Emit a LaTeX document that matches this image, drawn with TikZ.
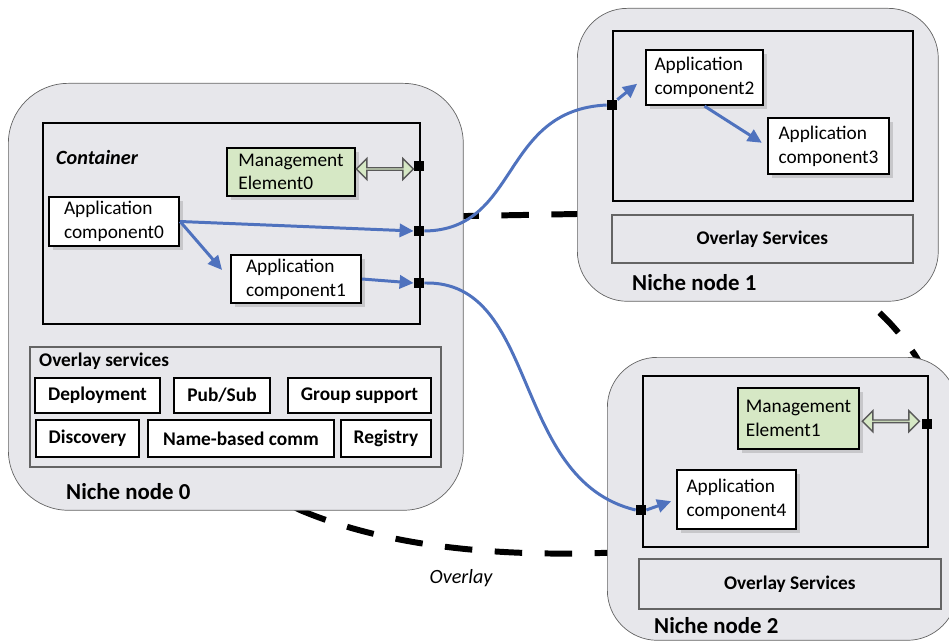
\documentclass[tikz,border=0pt]{standalone}
\usepackage{fontspec}
\setmainfont{Carlito}
\usetikzlibrary{shapes,arrows.meta,positioning,calc,shadows}

\definecolor{nichegray}{RGB}{231,231,235}
\definecolor{framegray}{RGB}{100,100,100}
\definecolor{mgmtgreen}{RGB}{214,232,197}
\definecolor{linkblue}{RGB}{79,114,190}

\begin{document}
\begin{tikzpicture}[
  x=0.02cm, y=-0.02cm,
  font=\fontsize{11}{13.5}\selectfont,
  niche/.style={rectangle, draw=framegray, fill=nichegray, rounded corners=1.2cm, anchor=north west, inner sep=0pt},
  cont/.style={rectangle, draw, line width=1.1pt, anchor=north west, inner sep=0pt},
  ovl/.style={rectangle, draw=framegray, line width=1pt, anchor=north west, inner sep=0pt, font=\fontsize{11}{13.5}\selectfont\bfseries},
  app/.style={rectangle, draw, line width=1.3pt, fill=white, align=left, inner sep=0pt, drop shadow={shadow xshift=2pt, shadow yshift=-2pt, opacity=0.3}},
  mgmt/.style={app, fill=mgmtgreen},
  svc/.style={rectangle, draw, line width=1.3pt, fill=white, inner sep=0pt, font=\fontsize{11}{13.5}\selectfont\bfseries},
  port/.style={rectangle, fill=black, minimum size=0.2cm, inner sep=0pt},
  wire/.style={line width=1.7pt, linkblue},
  link/.style={wire, -{Triangle[length=8pt,width=7.5pt]}},
  dblarrow/.style={double arrow, draw=black!65, line width=0.8pt, fill=mgmtgreen, minimum height=1.14cm, minimum width=0.42cm, double arrow head extend=0.1cm, inner sep=0pt},
  title/.style={anchor=west, font=\fontsize{13}{15}\selectfont\bfseries},
  overlayline/.style={dash pattern=on 0.55cm off 0.45cm, line width=3.4pt}
]
  \useasboundingbox (0,0) rectangle (949,642);

  % overlay ring, mostly hidden behind the niche nodes
  \draw[overlayline] (300,510) .. controls (390,548) and (500,556) .. (600,553)
    .. controls (800,550) and (960,420) .. (915,355)
    .. controls (895,325) and (870,300) .. (840,285)
    .. controls (750,230) and (650,213) .. (577,214)
    -- (467,216)
    .. controls (300,220) and (230,480) .. (300,510);
  \node[font=\fontsize{11.5}{13.5}\selectfont\itshape] (ovllbl) at (461,578) {Overlay};

  % niche node 0
  \node[niche, minimum width=9.1cm, minimum height=8.54cm] (niche0) at (8,83) {};
  \node[cont, minimum width=7.54cm, minimum height=4.02cm] (cont0) at (42,122) {};
  \node[anchor=west, font=\fontsize{11.5}{13.5}\selectfont\bfseries\itshape] (contlbl) at (50,157) {Container};
  \node[mgmt, minimum width=2.56cm, minimum height=0.96cm] (me0) at (291,172) {Management\\Element0};
  \node[app, minimum width=2.6cm, minimum height=0.98cm] (ac0) at (114,221.5) {Application\\component0};
  \node[app, minimum width=2.6cm, minimum height=0.96cm] (ac1) at (296,279) {Application\\component1};
  \node[port] (p0a) at (419,166) {};
  \node[port] (p0b) at (419,231) {};
  \node[port] (p0c) at (419,283) {};
  \node[dblarrow] (dbl0) at ($(me0.east)!0.5!(p0a.west)$) {};

  \node[ovl, minimum width=8.22cm, minimum height=2.4cm] (ovl0) at (29,346) {};
  \node[anchor=west, font=\fontsize{11}{13.5}\selectfont\bfseries] (ovl0lbl) at (33,361) {Overlay services};
  \node[svc, minimum width=2.5cm, minimum height=0.7cm] (deploy) at (97.5,395.5) {Deployment};
  \node[svc, minimum width=1.92cm, minimum height=0.7cm] (pubsub) at (222,395.5) {Pub/Sub};
  \node[svc, minimum width=2.86cm, minimum height=0.7cm] (group) at (359.5,395.5) {Group support};
  \node[svc, minimum width=2.06cm, minimum height=0.74cm] (discov) at (87.5,438.5) {Discovery};
  \node[svc, minimum width=3.72cm, minimum height=0.74cm] (namecomm) at (241,438.5) {Name-based comm};
  \node[svc, minimum width=1.8cm, minimum height=0.74cm] (registry) at (386,438.5) {Registry};
  \node[title] (n0lbl) at (60,492) {Niche node 0};

  % niche node 1
  \node[niche, rounded corners=1cm, minimum width=7.22cm, minimum height=5.86cm] (niche1) at (577,8) {};
  \node[cont, minimum width=6cm, minimum height=3.4cm] (cont1) at (612,30) {};
  \node[app, minimum width=2.34cm, minimum height=1.1cm] (ac2) at (704.5,77.5) {Application\\component2};
  \node[app, minimum width=2.42cm, minimum height=1.12cm] (ac3) at (828.5,146) {Application\\component3};
  \node[port] (p1) at (612,105) {};
  \node[ovl, minimum width=6.02cm, minimum height=0.96cm] (ovl1) at (611,214) {Overlay Services};
  \node[title] (n1lbl) at (626,283) {Niche node 1};

  % niche node 2
  \node[niche, rounded corners=1cm, minimum width=7cm, minimum height=5.66cm] (niche2) at (607,357) {};
  \node[cont, minimum width=5.7cm, minimum height=3.42cm] (cont2) at (642,375) {};
  \node[mgmt, minimum width=2.42cm, minimum height=1.22cm] (me1) at (798.5,418.5) {Management\\Element1};
  \node[app, minimum width=2.38cm, minimum height=1.18cm] (ac4) at (736.5,499.5) {Application\\component4};
  \node[port] (p2a) at (641,510) {};
  \node[port] (p2b) at (927,424) {};
  \node[dblarrow] (dbl1) at ($(me1.east)!0.5!(p2b.west)$) {};
  \node[ovl, minimum width=6.04cm, minimum height=1cm] (ovl2) at (638,558) {Overlay Services};
  \node[title] (n2lbl) at (648,626) {Niche node 2};

  % links
  \draw[link] (ac0.east) -- (p0b.west);
  \draw[link, shorten >=0.24cm] (ac0.east) -- (ac1.west);
  \draw[link] (ac1.east) -- (p0c.west);
  \draw[wire] (p0b.east) .. controls (520,230) and (500,110) .. (p1.west);
  \draw[link, shorten >=0.2cm] (p1.north east) -- (ac2.west);
  \draw[link, shorten >=0.12cm] (ac2.south) -- (ac3.west);
  \draw[wire] (p0c.east) .. controls (540,280) and (510,480) .. (p2a.west);
  \draw[link, shorten >=0.1cm] (p2a.east) -- (ac4.west);
\end{tikzpicture}
\end{document}
